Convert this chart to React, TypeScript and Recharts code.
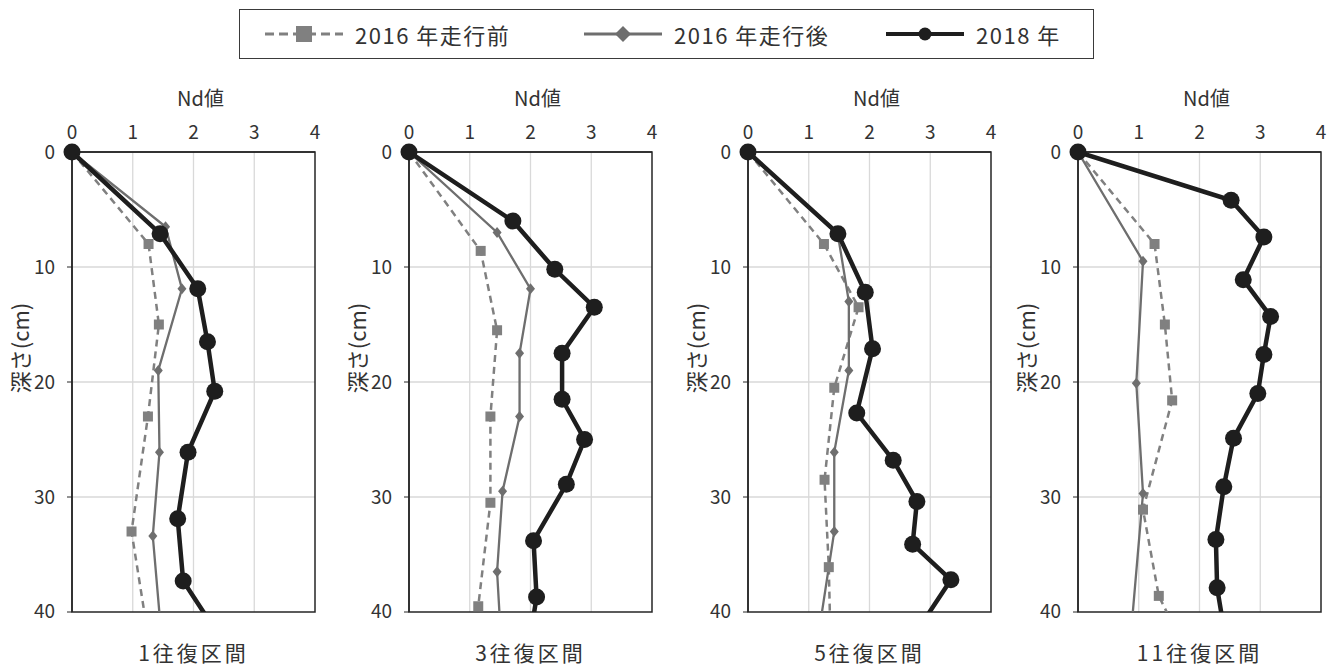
import { ScatterChart, Scatter, XAxis, YAxis, CartesianGrid, ReferenceArea } from 'recharts'

// [Nd値, 深さ cm]
type Pt = [number, number]

const ndTicks = [0, 1, 2, 3, 4]
const depthTicks = [0, 10, 20, 30, 40]
const seriesNames = ['2016 年走行前', '2016 年走行後', '2018 年']
const sections = ['1往復区間', '3往復区間', '5往復区間', '11往復区間']

// 1往復区間
const before1: Pt[] = [[0, 0], [1.26, 8.0], [1.43, 15.0], [1.25, 23.0], [0.98, 33.0], [1.28, 43]]
const after1: Pt[] = [[0, 0], [1.54, 6.5], [1.81, 11.9], [1.42, 19.0], [1.44, 26.1], [1.33, 33.4], [1.47, 42]]
const y2018_1: Pt[] = [[0, 0], [1.45, 7.1], [2.07, 11.9], [2.23, 16.5], [2.35, 20.8], [1.91, 26.1], [1.74, 31.9], [1.83, 37.3], [2.35, 41.5]]

// 3往復区間
const before3: Pt[] = [[0, 0], [1.18, 8.6], [1.45, 15.5], [1.34, 23.0], [1.34, 30.5], [1.14, 39.5]]
const after3: Pt[] = [[0, 0], [1.45, 7.0], [2.0, 11.9], [1.82, 17.5], [1.82, 23.0], [1.54, 29.5], [1.45, 36.5], [1.51, 42]]
const y2018_3: Pt[] = [[0, 0], [1.71, 6.0], [2.4, 10.2], [3.05, 13.5], [2.52, 17.5], [2.52, 21.5], [2.89, 25.0], [2.59, 28.9], [2.05, 33.8], [2.1, 38.7], [2.0, 42]]

// 5往復区間
const before5: Pt[] = [[0, 0], [1.25, 8.0], [1.82, 13.5], [1.42, 20.5], [1.26, 28.5], [1.33, 36.1], [1.36, 43]]
const after5: Pt[] = [[0, 0], [1.48, 7.2], [1.66, 13.0], [1.66, 19.0], [1.42, 26.1], [1.42, 33.0], [1.16, 42]]
const y2018_5: Pt[] = [[0, 0], [1.48, 7.1], [1.93, 12.2], [2.05, 17.1], [1.79, 22.7], [2.39, 26.8], [2.78, 30.4], [2.71, 34.1], [3.34, 37.2], [2.8, 41.5]]

// 11往復区間
const before11: Pt[] = [[0, 0], [1.26, 8.0], [1.43, 15.0], [1.55, 21.6], [1.07, 31.1], [1.33, 38.6], [1.6, 41.5]]
const after11: Pt[] = [[0, 0], [1.07, 9.5], [0.96, 20.1], [1.07, 29.7], [0.87, 42]]
const y2018_11: Pt[] = [[0, 0], [2.52, 4.2], [3.06, 7.4], [2.72, 11.1], [3.17, 14.3], [3.06, 17.6], [2.96, 21.0], [2.56, 24.9], [2.4, 29.1], [2.27, 33.7], [2.29, 37.9], [2.42, 42]]

const panels = [
  { left: 72, before: before1, after: after1, latest: y2018_1 },
  { left: 409, before: before3, after: after3, latest: y2018_3 },
  { left: 748, before: before5, after: after5, latest: y2018_5 },
  { left: 1078, before: before11, after: after11, latest: y2018_11 },
]

const FONT = '"Noto Sans CJK JP", "Noto Sans", sans-serif'
const TEXT = '#333'
const FRAME = '#262626'
const GRAY_SQ = '#808080'
const GRAY_DM = '#6e6e6e'
const BLACK = '#1e1e1e'

const PLOT_W = 243
const PLOT_TOP = 152
const AX_W = 40
const AX_H = 30
const CHART_W = 72 + PLOT_W + 15
const DEPTH_MAX = 40

const toRows = (pts: Pt[]) => pts.map(([nd, depth]) => ({ nd, depth }))

const Square = (p: any) => <rect x={p.cx - 5} y={p.cy - 5} width={10} height={10} fill={GRAY_SQ} />
const Diamond = (p: any) => (
  <polygon points={`${p.cx},${p.cy - 5.5} ${p.cx + 4.5},${p.cy} ${p.cx},${p.cy + 5.5} ${p.cx - 4.5},${p.cy}`} fill={GRAY_DM} />
)
const Dot = (p: any) => <circle cx={p.cx} cy={p.cy} r={8.5} fill={BLACK} />
const NoMark = () => <g />

function Panel({ left, label, before, after, latest }: { left: number; label: string; before: Pt[]; after: Pt[]; latest: Pt[] }) {
  const series = [
    { rows: toRows(before), line: { stroke: GRAY_SQ, strokeWidth: 2.5, strokeDasharray: '7 5' }, shape: Square },
    { rows: toRows(after), line: { stroke: GRAY_DM, strokeWidth: 2.3 }, shape: Diamond },
    { rows: toRows(latest), line: { stroke: BLACK, strokeWidth: 4.5 }, shape: Dot },
  ]
  const mid = left + PLOT_W / 2
  return (
    <>
      <div style={{ position: 'absolute', left: left - 72, top: 0, width: CHART_W, height: 630 }}>
        <ScatterChart width={CHART_W} height={622} margin={{ top: PLOT_TOP - AX_H, left: 72 - AX_W, right: 15, bottom: 10 }}>
          <CartesianGrid stroke="#d9d9d9" strokeWidth={1.3} horizontalValues={[10, 20, 30]} verticalValues={[1, 2, 3]} />
          <XAxis
            type="number"
            dataKey="nd"
            orientation="top"
            domain={[0, 4]}
            ticks={ndTicks}
            height={AX_H}
            tickSize={0}
            tickMargin={13}
            tickLine={false}
            axisLine={{ stroke: FRAME, strokeWidth: 1.5 }}
            tick={{ fill: TEXT, fontSize: 19, fontFamily: FONT }}
          />
          <YAxis
            type="number"
            dataKey="depth"
            domain={[0, DEPTH_MAX]}
            reversed
            allowDataOverflow
            ticks={depthTicks}
            width={AX_W}
            tickSize={5}
            tickMargin={12}
            tickLine={{ stroke: FRAME }}
            axisLine={{ stroke: FRAME, strokeWidth: 1.5 }}
            tick={{ fill: TEXT, fontSize: 19, fontFamily: FONT }}
          />
          <YAxis yAxisId="m" type="number" dataKey="depth" domain={[0, DEPTH_MAX]} reversed hide />
          <ReferenceArea x1={0} x2={4} y1={0} y2={DEPTH_MAX} fill="none" stroke={FRAME} strokeWidth={1.5} />
          {series.map((s, i) => (
            <Scatter key={'l' + i} data={s.rows} line={s.line} lineType="joint" shape={NoMark} isAnimationActive={false} />
          ))}
          {series.map((s, i) => (
            <Scatter
              key={'m' + i}
              yAxisId="m"
              data={s.rows.filter((r) => r.depth <= DEPTH_MAX)}
              shape={s.shape}
              isAnimationActive={false}
            />
          ))}
        </ScatterChart>
      </div>
      <div style={{ position: 'absolute', left: mid + 7 - 60, width: 120, top: 84, textAlign: 'center', fontSize: 20, color: TEXT, lineHeight: '28px' }}>
        Nd値
      </div>
      <div
        style={{
          position: 'absolute',
          left: left - 53 - 60,
          top: 348 - 14,
          width: 120,
          height: 28,
          lineHeight: '28px',
          textAlign: 'center',
          fontSize: 22,
          color: TEXT,
          transform: 'rotate(-90deg)',
        }}
      >
        深さ(cm)
      </div>
      <div style={{ position: 'absolute', left: mid - 90, width: 180, top: 637, textAlign: 'center', fontSize: 21, letterSpacing: 3, color: TEXT, lineHeight: '30px' }}>
        {label}
      </div>
    </>
  )
}

function LegendIcon({ kind }: { kind: number }) {
  return (
    <svg width={78} height={20} style={{ display: 'block' }}>
      {kind === 0 && (
        <>
          <line x1={0} y1={10} x2={78} y2={10} stroke={GRAY_SQ} strokeWidth={3} strokeDasharray="9 5" />
          <rect x={31} y={2} width={16} height={16} fill={GRAY_SQ} />
        </>
      )}
      {kind === 1 && (
        <>
          <line x1={0} y1={10} x2={78} y2={10} stroke={GRAY_DM} strokeWidth={3} />
          <polygon points="39,2 47,10 39,18 31,10" fill={GRAY_DM} />
        </>
      )}
      {kind === 2 && (
        <>
          <line x1={0} y1={10} x2={78} y2={10} stroke={BLACK} strokeWidth={4} />
          <circle cx={39} cy={10} r={6.5} fill={BLACK} />
        </>
      )}
    </svg>
  )
}

const legendIconLeft = [265, 584, 886]

export default function App() {
  return (
    <div style={{ position: 'absolute', left: 0, top: 0, width: 1333, height: 668, background: '#fff', fontFamily: FONT, overflow: 'hidden' }}>
      <div style={{ position: 'absolute', left: 239, top: 9, width: 855, height: 50, border: '1.5px solid #3a3a3a', boxSizing: 'border-box' }} />
      {seriesNames.map((name, i) => (
        <div key={name} style={{ position: 'absolute', left: legendIconLeft[i], top: 18, height: 32, display: 'flex', alignItems: 'center' }}>
          <LegendIcon kind={i} />
          <span style={{ marginLeft: 12, fontSize: 22, letterSpacing: 1.5, color: TEXT, whiteSpace: 'nowrap' }}>{name}</span>
        </div>
      ))}
      {panels.map((p, i) => (
        <Panel key={i} left={p.left} label={sections[i]} before={p.before} after={p.after} latest={p.latest} />
      ))}
    </div>
  )
}
